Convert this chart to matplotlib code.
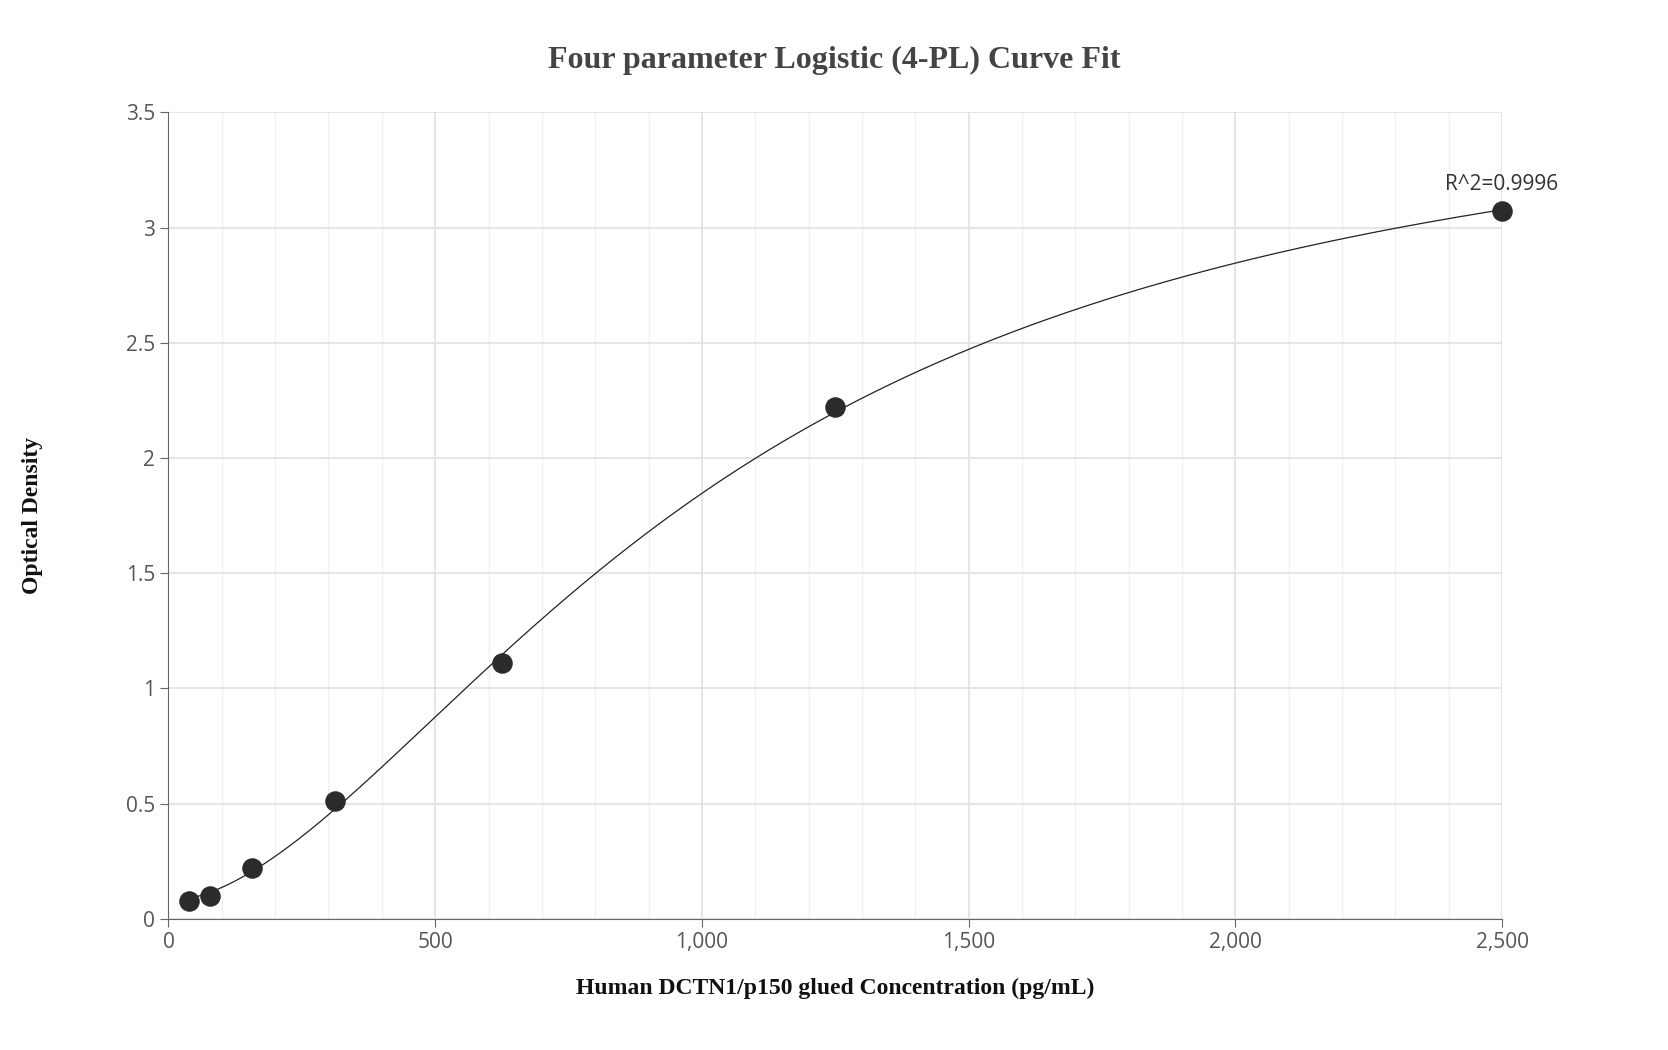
import numpy as np
import matplotlib
matplotlib.use("Agg")
import matplotlib.pyplot as plt
from matplotlib.ticker import MultipleLocator, FuncFormatter

conc = [39.06, 78.125, 156.25, 312.5, 625, 1250, 2500]
od = [0.075, 0.10, 0.22, 0.51, 1.11, 2.22, 3.07]
r2_label = "R^2=0.9996"

# 4-PL fit: y = d + (a - d) / (1 + (x/c)^b), grid over b, c; a, d by least squares
X = np.asarray(conc, float); Y = np.asarray(od, float)
best = None
for b in np.linspace(1.0, 4.0, 121):
    for c in np.exp(np.linspace(np.log(300), np.log(6000), 200)):
        g = 1.0 / (1.0 + (X / c) ** b)
        A = np.column_stack([g, 1 - g])
        coef, *_ = np.linalg.lstsq(A, Y, rcond=None)
        err = np.sum((A @ coef - Y) ** 2)
        if best is None or err < best[0]:
            best = (err, b, c, coef[0], coef[1])
_, B, C, Aa, D = best
xs = np.linspace(X[0], X[-1], 600)
ys = D + (Aa - D) / (1 + (xs / C) ** B)

fig = plt.figure(figsize=(16.68, 10.5), dpi=100)
ax = fig.add_axes([0.101, 0.125, 0.7995, 0.768])
ax.plot(xs, ys, color="#222222", lw=0.9, zorder=3)
ax.scatter(conc, od, s=190, color="#2b2b2b", zorder=4, clip_on=False)
ax.annotate(r2_label, (conc[-1], od[-1]), xytext=(0, 12), textcoords="offset points",
            ha="center", va="bottom", fontsize=15, family="Open Sans", color="#333333")

ax.set_xlim(0, 2500); ax.set_ylim(0, 3.5)
ax.xaxis.set_major_locator(MultipleLocator(500))
ax.xaxis.set_minor_locator(MultipleLocator(100))
ax.yaxis.set_major_locator(MultipleLocator(0.5))
ax.xaxis.set_major_formatter(FuncFormatter(lambda v, p: f"{int(v):,}"))
ax.yaxis.set_major_formatter(FuncFormatter(lambda v, p: f"{v:g}"))
ax.grid(which="major", color="#dde1e8", lw=1.2)
ax.grid(which="minor", axis="x", color="#eef0f4", lw=1.0)
ax.set_axisbelow(True)
for s in ["top", "right"]:
    ax.spines[s].set_visible(False)
for s in ["left", "bottom"]:
    ax.spines[s].set_color("#666666")
ax.tick_params(which="major", length=6, color="#666666", labelsize=15, labelcolor="#555555")
ax.tick_params(which="minor", length=0)
for lab in ax.get_xticklabels() + ax.get_yticklabels():
    lab.set_family("Open Sans")

ax.set_xlabel("Human DCTN1/p150 glued Concentration (pg/mL)", family="Liberation Serif",
              fontweight="bold", fontsize=17, labelpad=18, color="#111111")
ax.set_ylabel("Optical Density", family="Liberation Serif", fontweight="bold",
              fontsize=17, labelpad=60, color="#111111")
fig.text(0.5, 0.942, "Four parameter Logistic (4-PL) Curve Fit", ha="center", va="center",
         family="Liberation Serif", fontweight="bold", fontsize=23, color="#444444")
fig.savefig("out.png", dpi=100)
